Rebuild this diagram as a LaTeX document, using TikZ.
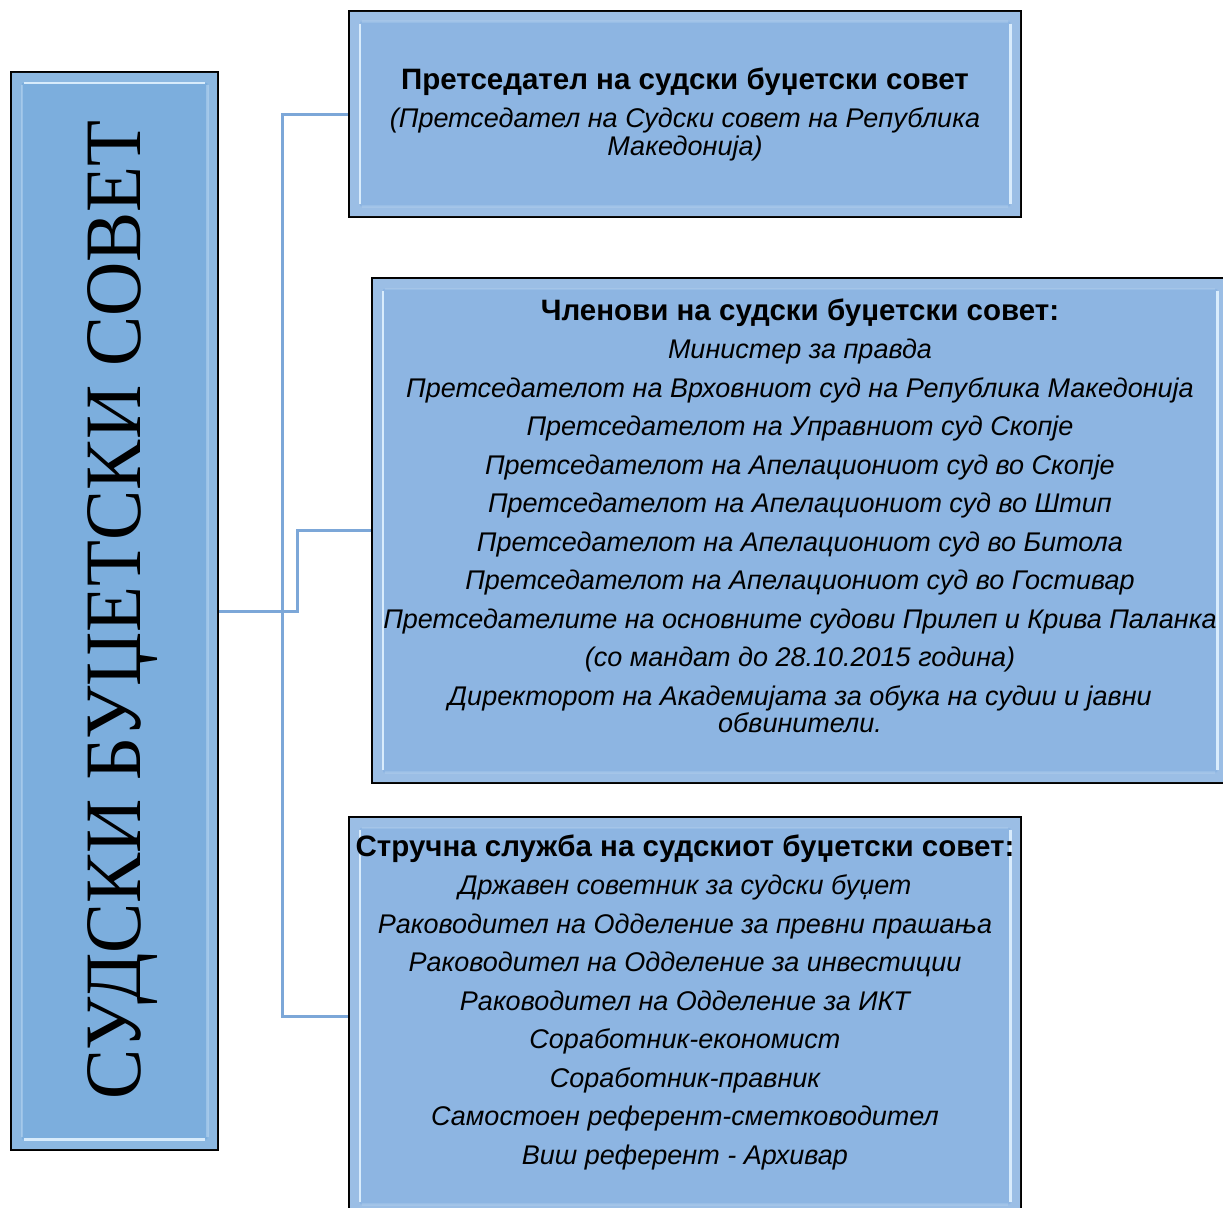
\documentclass[tikz,border=0pt]{standalone}
\usepackage{fontspec}
\setmainfont{Liberation Sans}
\newfontfamily\bigserif{Liberation Serif}[FakeStretch=0.94]
\usetikzlibrary{calc}
\definecolor{leftfill}{RGB}{124,174,221}
\definecolor{boxfill}{RGB}{141,181,226}
\definecolor{connc}{RGB}{124,167,216}
\definecolor{hl}{RGB}{225,242,255}
\newcommand\bevelfx[3]{%
  \fill[white,opacity=0.13,even odd rule] ($(#1.north west)+(2,2)$) rectangle ($(#1.south east)+(-2,-2)$) ($(#1.north west)+(12,12)$) rectangle ($(#1.south east)+(-12,-12)$);
  \draw[hl,opacity=#2,line width=2.5pt] ($(#1.north west)+(14,12)$) -- ($(#1.north east)+(-14,12)$) ($(#1.south west)+(14,-12)$) -- ($(#1.south east)+(-14,-12)$);
  \draw[hl,opacity=#3,line width=2.5pt] ($(#1.north west)+(12,14)$) -- ($(#1.south west)+(12,-14)$) ($(#1.north east)+(-12,14)$) -- ($(#1.south east)+(-12,-14)$);
}
\newcommand\ttl[1]{{\fontsize{29.5}{38.5}\selectfont\upshape\bfseries #1}}
\begin{document}
\begin{tikzpicture}[x=1pt,y=-1pt,
  box/.style={draw=black,line width=2.5pt,fill=boxfill,inner sep=0pt},
  conn/.style={draw=connc,line width=3pt},
  txt/.style={inner sep=0pt,align=center,font=\fontsize{27}{38.5}\selectfont\itshape},
  bigtxt/.style={rotate=90,anchor=base,inner sep=0pt,font=\bigserif\fontsize{80}{80}\selectfont},
]
\useasboundingbox[fill=white] (0,0) rectangle (1223,1207);

\node[box,fill=leftfill,minimum width=207,minimum height=1078] (L) at (114.5,611) {};
\node[box,minimum width=672,minimum height=206] (T) at (685,114) {};
\node[box,minimum width=856,minimum height=505] (M) at (800,530.5) {};
\node[box,minimum width=672,minimum height=398] (B) at (685,1016) {};

\bevelfx{L}{0.9}{0.3}
\bevelfx{T}{0.15}{0.9}
\bevelfx{M}{0.15}{0.9}
\bevelfx{B}{0.15}{0.9}

\draw[conn] (T.west) -- ++(-65,0) |- (B.west);
\draw[conn] (L.east) -- ++(78,0) |- (M.west);

\node[bigtxt] (Lt) at (140,610) {СУДСКИ БУЏЕТСКИ СОВЕТ};

\node[txt,anchor=north] (Tt) at (685,65) {\rule{0pt}{24pt}\ttl{Претседател на судски буџетски совет}\\
(Претседател на Судски совет на Република\\[-10.5pt]
Македонија)};

\node[txt,anchor=north] (Mt) at (800,296) {\rule{0pt}{24pt}\ttl{Членови на судски буџетски совет:}\\
Министер за правда\\
Претседателот на Врховниот суд на Република Македонија\\
Претседателот на Управниот суд Скопје\\
Претседателот на Апелациониот суд во Скопје\\
Претседателот на Апелациониот суд во Штип\\
Претседателот на Апелациониот суд во Битола\\
Претседателот на Апелациониот суд во Гостивар\\
Претседателите на основните судови Прилеп и Крива Паланка\\
(со мандат до 28.10.2015 година)\\
Директорот на Академијата за обука на судии и јавни\\[-11.5pt]
обвинители.};

\node[txt,anchor=north] (Bt) at (685,832) {\rule{0pt}{24pt}\ttl{Стручна служба на судскиот буџетски совет:}\\
Државен советник за судски буџет\\
Раководител на Одделение за превни прашања\\
Раководител на Одделение за инвестиции\\
Раководител на Одделение за ИКТ\\
Соработник-економист\\
Соработник-правник\\
Самостоен референт-сметководител\\
Виш референт - Архивар};
\end{tikzpicture}
\end{document}
